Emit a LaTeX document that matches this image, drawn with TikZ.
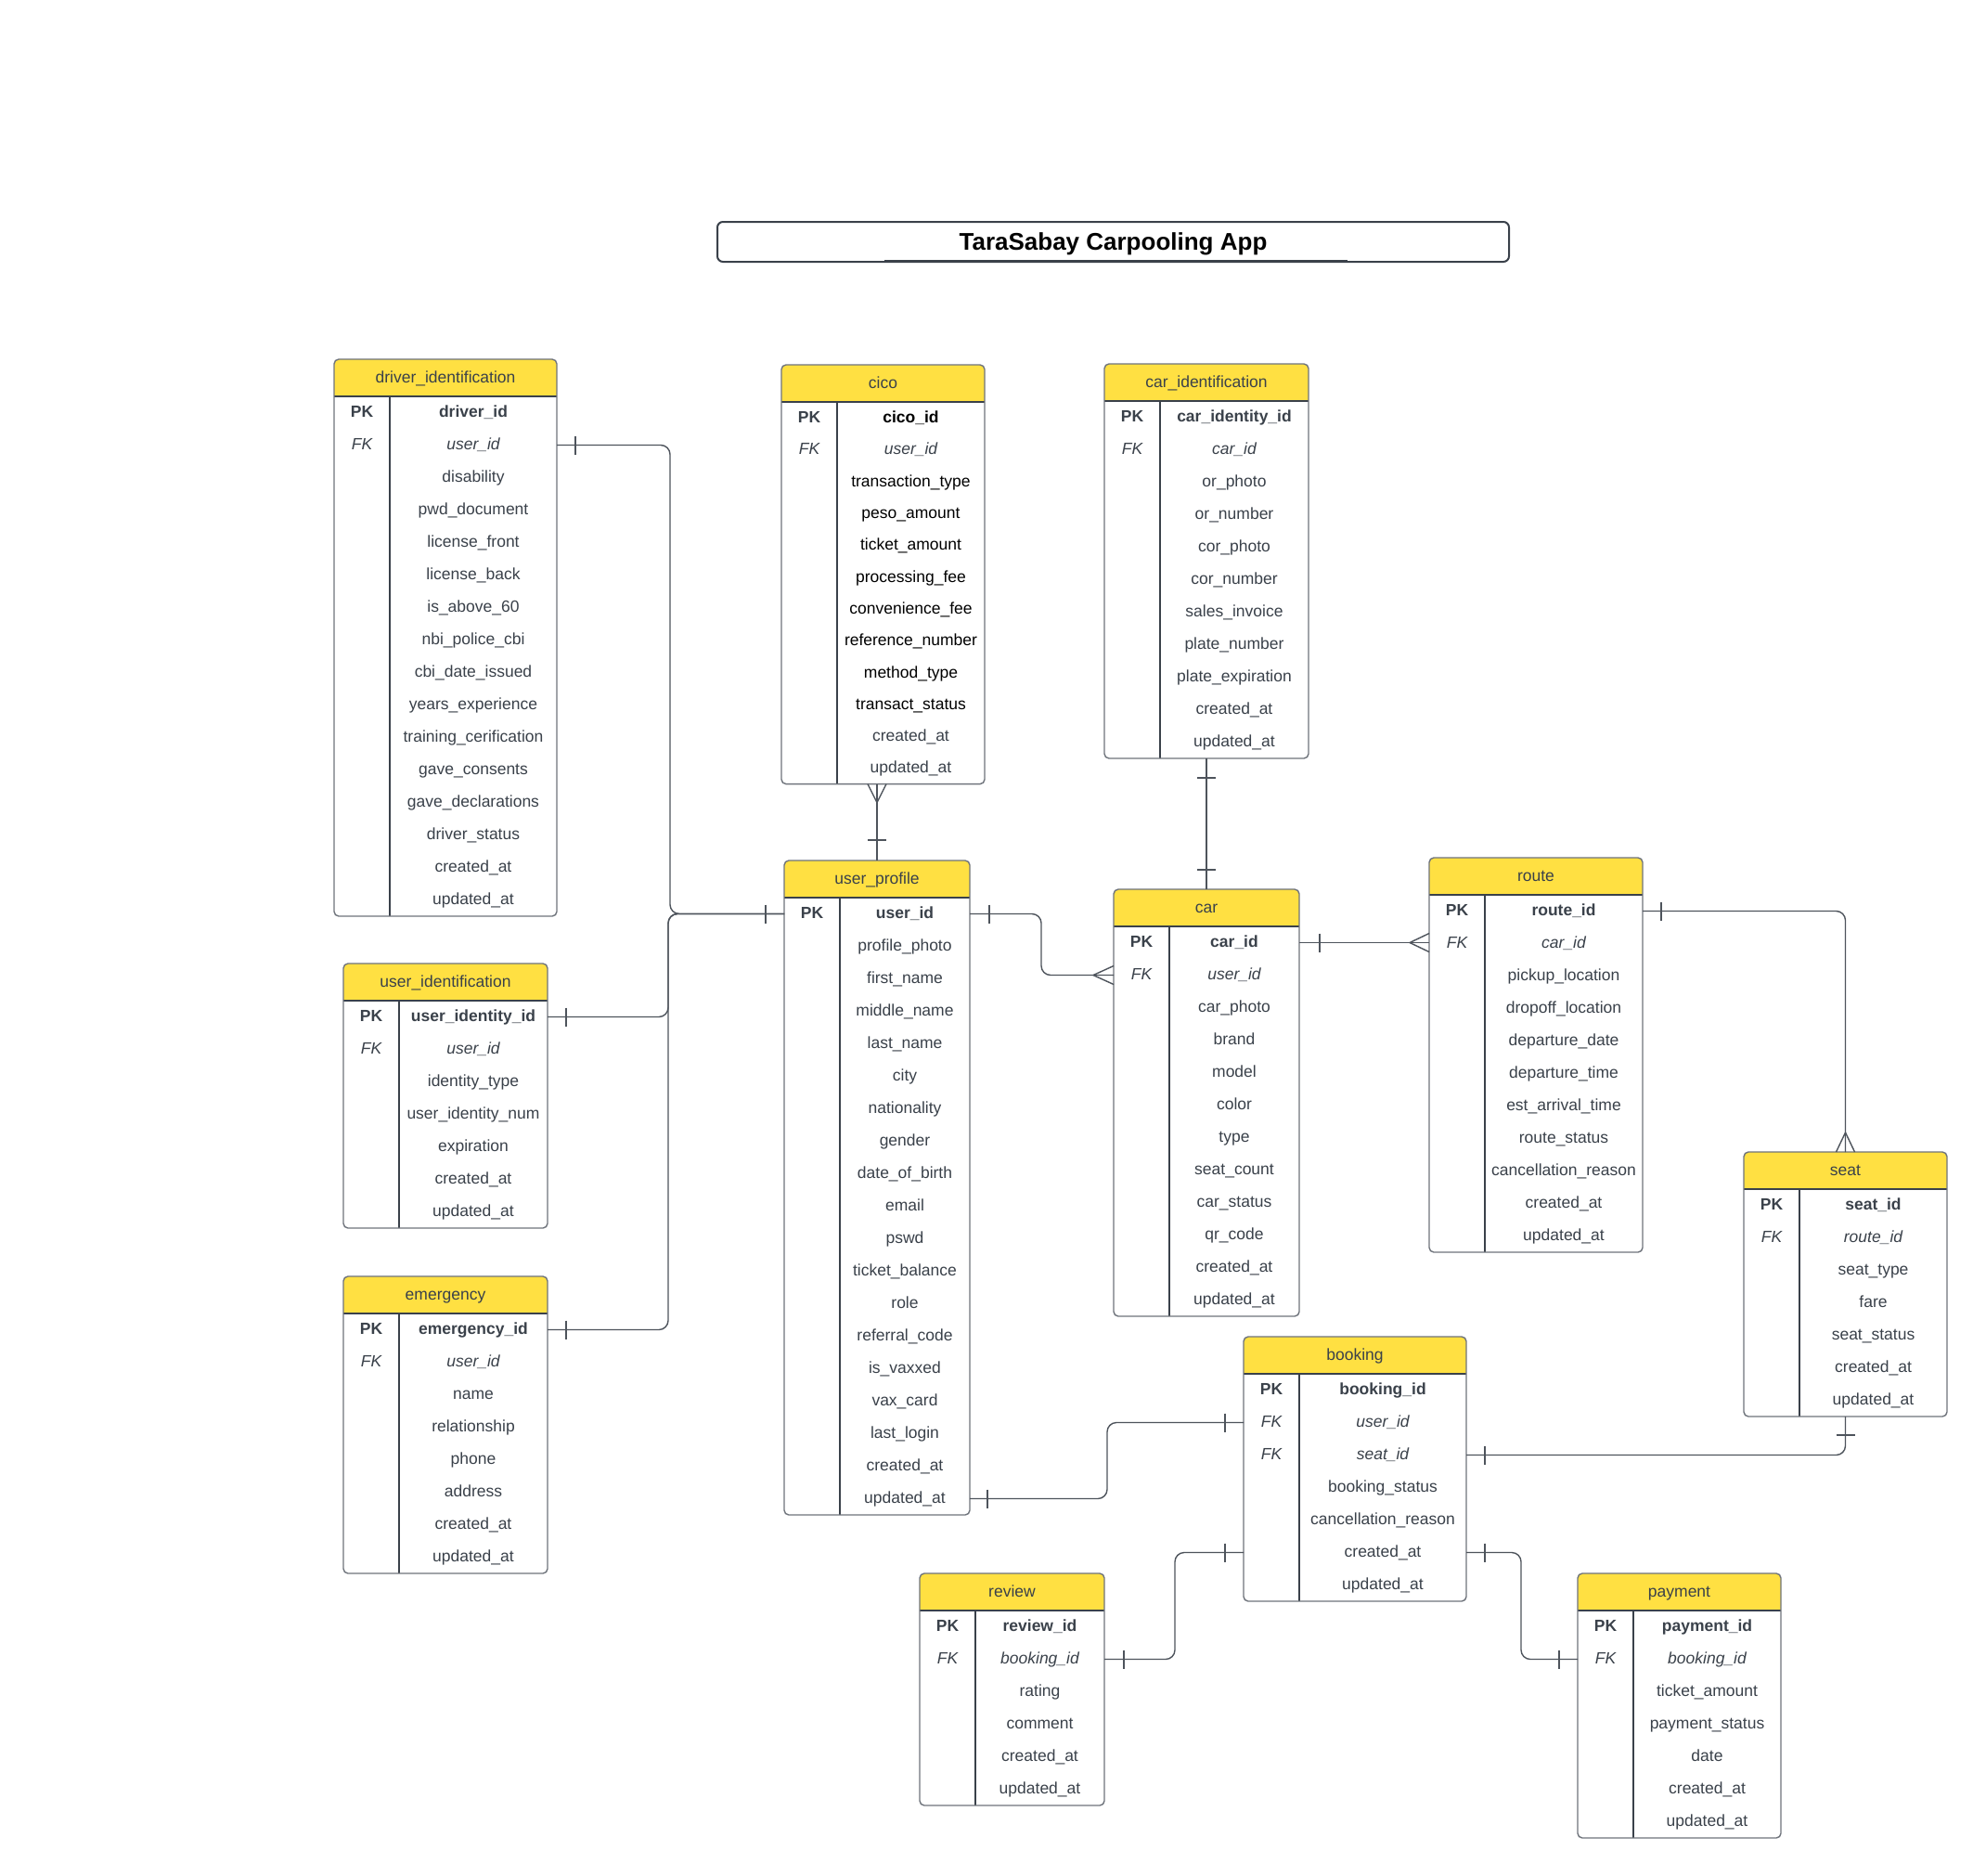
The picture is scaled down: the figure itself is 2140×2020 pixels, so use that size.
\documentclass[tikz,border=0pt]{standalone}
\usepackage{fontspec}
\setmainfont{Liberation Sans}
\usetikzlibrary{calc}

\definecolor{ink}{HTML}{3A414A}
\definecolor{edge}{HTML}{6F747C}
\definecolor{hdr}{HTML}{FFE042}
\definecolor{wire}{HTML}{4E545C}

\tikzset{
  erdframe/.style={draw=edge, line width=1.4pt, rounded corners=5pt, inner sep=0pt, outer sep=0pt},
  erdline/.style={draw=ink, line width=1.4pt},
  erdcell/.style={inner sep=0pt, outer sep=0pt, text=ink, font=\fontsize{17.5}{21}\selectfont,
    text height=14.6pt, text depth=3.7pt, align=center},
  rel/.style={draw=wire, line width=1.4pt, rounded corners=10pt},
  titlebox/.style={draw=ink, line width=2pt, rounded corners=6pt, inner sep=0pt, outer sep=0pt,
    minimum width=853pt, minimum height=43pt, text=black, font=\fontsize{26}{30}\selectfont\bfseries,
    text height=22pt, text depth=5pt},
}

% cell fonts: key column (erdkf..) and field column (erdff..)
\def\erdkfpk{\bfseries}\def\erdkfpkb{\bfseries}\def\erdkffk{\itshape}\def\erdkfn{}\def\erdkfb{}
\def\erdffpk{\bfseries}\def\erdffpkb{\bfseries\color{black}}\def\erdfffk{\itshape}\def\erdffn{}\def\erdffb{\color{black}}

% #1 name, #2 left, #3 top, #4 width, #5 row height, #6 rows, #7 title, #8 key/field/kind list
\newcommand\erdtable[8]{%
  \pgfmathsetmacro\erdh{40+#5*#6}%
  \fill[hdr, rounded corners=5pt] (#2,#3) rectangle ++(#4,40);
  \fill[hdr] (#2,#3+20) rectangle ++(#4,20);
  \node[erdcell] (#1-head) at (#2+#4/2,#3+20) {#7};
  \foreach \erdk/\erdf/\erds [count=\erdi from 0] in {#8}{%
    \node[erdcell, minimum width=60pt, minimum height=#5pt, anchor=north west]
      (#1-\erdf-key) at (#2,#3+40+\erdi*#5) {\csname erdkf\erds\endcsname\erdk};
    \node[erdcell, minimum width=#4pt-60pt, minimum height=#5pt, anchor=north west]
      (#1-\erdf) at (#2+60,#3+40+\erdi*#5) {\csname erdff\erds\endcsname\erdf};
  }
  \draw[erdline] (#2,#3+40) -- ++(#4,0) (#2+60,#3+40) -- (#2+60,#3+\erdh);
  \node[erdframe, minimum width=#4pt, minimum height=\erdh pt, anchor=north west] (#1) at (#2,#3) {};
}

% relationship end marks
\newcommand\erdbar[2]{\draw[rel] ($(#1)+(#2,-10)$) -- ($(#1)+(#2,10)$);}
\newcommand\erdbarv[2]{\draw[rel] ($(#1)+(-10,#2)$) -- ($(#1)+(10,#2)$);}
\newcommand\erdcrow[2]{\draw[rel] ($(#1)+(#2,0)$) -- ($(#1)+(0,-10)$) ($(#1)+(#2,0)$) -- ($(#1)+(0,10)$);}
\newcommand\erdcrowv[2]{\draw[rel] ($(#1)+(0,#2)$) -- ($(#1)+(-10,0)$) ($(#1)+(0,#2)$) -- ($(#1)+(10,0)$);}

\begin{document}
\catcode`\_=12
\begin{tikzpicture}[x=1pt,y=-1pt]
\useasboundingbox (0,0) rectangle (2140,2020);
\fill[white] (0,0) rectangle (2140,2020);

% title
\node[titlebox] (title) at (1199.5,260.5) {TaraSabay Carpooling App};
\draw[ink, line width=3pt] ([xshift=-247pt,yshift=1pt]title.south) -- ([xshift=252pt,yshift=1pt]title.south);

% tables
\erdtable{driver_identification}{360}{387}{240}{35}{16}{driver_identification}{PK/driver_id/pk,FK/user_id/fk,/disability/n,/pwd_document/n,/license_front/n,/license_back/n,/is_above_60/n,/nbi_police_cbi/n,/cbi_date_issued/n,/years_experience/n,/training_cerification/n,/gave_consents/n,/gave_declarations/n,/driver_status/n,/created_at/n,/updated_at/n}

\erdtable{cico}{842}{393}{219}{34.3}{12}{cico}{PK/cico_id/pkb,FK/user_id/fk,/transaction_type/b,/peso_amount/b,/ticket_amount/b,/processing_fee/b,/convenience_fee/b,/reference_number/b,/method_type/b,/transact_status/b,/created_at/n,/updated_at/n}

\erdtable{car_identification}{1190}{392}{220}{35}{11}{car_identification}{PK/car_identity_id/pk,FK/car_id/fk,/or_photo/n,/or_number/n,/cor_photo/n,/cor_number/n,/sales_invoice/n,/plate_number/n,/plate_expiration/n,/created_at/n,/updated_at/n}

\erdtable{user_profile}{845}{927}{200}{35}{19}{user_profile}{PK/user_id/pk,/profile_photo/n,/first_name/n,/middle_name/n,/last_name/n,/city/n,/nationality/n,/gender/n,/date_of_birth/n,/email/n,/pswd/n,/ticket_balance/n,/role/n,/referral_code/n,/is_vaxxed/n,/vax_card/n,/last_login/n,/created_at/n,/updated_at/n}

\erdtable{user_identification}{370}{1038}{220}{35}{7}{user_identification}{PK/user_identity_id/pk,FK/user_id/fk,/identity_type/n,/user_identity_num/n,/expiration/n,/created_at/n,/updated_at/n}

\erdtable{emergency}{370}{1375}{220}{35}{8}{emergency}{PK/emergency_id/pk,FK/user_id/fk,/name/n,/relationship/n,/phone/n,/address/n,/created_at/n,/updated_at/n}

\erdtable{car}{1200}{958}{200}{35}{12}{car}{PK/car_id/pk,FK/user_id/fk,/car_photo/n,/brand/n,/model/n,/color/n,/type/n,/seat_count/n,/car_status/n,/qr_code/n,/created_at/n,/updated_at/n}

\erdtable{route}{1540}{924}{230}{35}{11}{route}{PK/route_id/pk,FK/car_id/fk,/pickup_location/n,/dropoff_location/n,/departure_date/n,/departure_time/n,/est_arrival_time/n,/route_status/n,/cancellation_reason/n,/created_at/n,/updated_at/n}

\erdtable{seat}{1879}{1241}{219}{35}{7}{seat}{PK/seat_id/pk,FK/route_id/fk,/seat_type/n,/fare/n,/seat_status/n,/created_at/n,/updated_at/n}

\erdtable{booking}{1340}{1440}{240}{35}{7}{booking}{PK/booking_id/pk,FK/user_id/fk,FK/seat_id/fk,/booking_status/n,/cancellation_reason/n,/created_at/n,/updated_at/n}

\erdtable{review}{991}{1695}{199}{35}{6}{review}{PK/review_id/pk,FK/booking_id/fk,/rating/n,/comment/n,/created_at/n,/updated_at/n}

\erdtable{payment}{1700}{1695}{219}{35}{7}{payment}{PK/payment_id/pk,FK/booking_id/fk,/ticket_amount/n,/payment_status/n,/date/n,/created_at/n,/updated_at/n}

% relationships into user_profile
\draw[rel] (driver_identification-user_id.east) -| ([xshift=-123pt]user_profile-user_id-key.west) -- (user_profile-user_id-key.west);
\draw[rel] (user_identification-user_identity_id.east) -| ([xshift=-125pt]user_profile-user_id-key.west) -- (user_profile-user_id-key.west);
\draw[rel] (emergency-emergency_id.east) -| ([xshift=-125pt]user_profile-user_id-key.west) -- (user_profile-user_id-key.west);
\erdbar{driver_identification-user_id.east}{20}
\erdbar{user_identification-user_identity_id.east}{20}
\erdbar{emergency-emergency_id.east}{20}
\erdbar{user_profile-user_id-key.west}{-20}

% cico -- user_profile
\coordinate (cicoend) at (user_profile.north |- cico.south);
\draw[rel] (cicoend) -- (user_profile.north);
\erdcrowv{cicoend}{20}
\erdbarv{user_profile.north}{-22}

% user_profile -- car
\draw[rel] (user_profile-user_id.east) -| ([xshift=-78pt]car-user_id-key.west) -- (car-user_id-key.west);
\erdbar{user_profile-user_id.east}{21}
\erdcrow{car-user_id-key.west}{-22}

% car_identification -- car
\draw[rel] (car_identification.south) -- (car.north);
\erdbarv{car_identification.south}{21}
\erdbarv{car.north}{-21}

% car -- route
\coordinate (routeend) at (car-car_id.east -| route.west);
\draw[rel] (car-car_id.east) -- (routeend);
\erdbar{car-car_id.east}{22}
\erdcrow{routeend}{-21}

% route -- seat
\draw[rel] (route-route_id.east) -| (seat.north);
\erdbar{route-route_id.east}{20}
\erdcrowv{seat.north}{-21}

% seat -- booking
\draw[rel] (seat.south) |- (booking-seat_id.east);
\erdbarv{seat.south}{20}
\erdbar{booking-seat_id.east}{20}

% user_profile -- booking
\draw[rel] (user_profile-updated_at.east) -| ([xshift=-147pt]booking-user_id-key.west) -- (booking-user_id-key.west);
\erdbar{user_profile-updated_at.east}{19}
\erdbar{booking-user_id-key.west}{-20}

% booking -- review
\draw[rel] (booking-created_at-key.west) -| ([xshift=76pt]review-booking_id.east) -- (review-booking_id.east);
\erdbar{booking-created_at-key.west}{-20}
\erdbar{review-booking_id.east}{21}

% booking -- payment
\draw[rel] (booking-created_at.east) -| ([xshift=-61pt]payment-booking_id-key.west) -- (payment-booking_id-key.west);
\erdbar{booking-created_at.east}{20}
\erdbar{payment-booking_id-key.west}{-20}
\end{tikzpicture}
\end{document}
